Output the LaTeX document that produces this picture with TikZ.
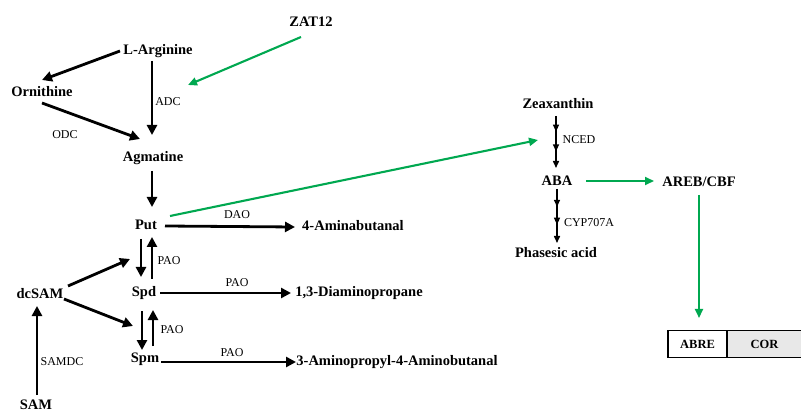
\documentclass[tikz,border=0pt]{standalone}
\usepackage{fontspec}
\setmainfont{Liberation Serif}
\usetikzlibrary{arrows.meta,calc,decorations.markings}
\definecolor{zgreen}{RGB}{0,168,80}
\definecolor{corgray}{RGB}{232,232,232}
\tikzset{
  lab/.style={font=\bfseries\fontsize{14.5}{16}\selectfont, inner sep=1pt},
  enz/.style={font=\fontsize{12}{14}\selectfont, inner sep=1pt},
  blk/.style={line width=2.8pt, -{Triangle[length=10pt,width=10pt]}},
  grn/.style={draw=zgreen, line width=2.1pt, -{Triangle[length=9pt,width=8pt]}, color=zgreen},
  thinarr/.style={line width=1.5pt, -{Triangle[length=7pt,width=6pt]}},
  boxnode/.style={draw, line width=1.1pt, minimum height=27pt, inner sep=0pt,
                  font=\bfseries\fontsize{12.5}{14}\selectfont}
}
\begin{document}
\begin{tikzpicture}[x=1pt,y=-1pt]
\useasboundingbox (0,0) rectangle (801,414);
% nodes
\node[lab] (zat) at (311,22) {ZAT12};
\node[lab] (arg) at (158,51) {L-Arginine};
\node[lab] (orn) at (42,92) {Ornithine};
\node[lab] (agm) at (153,158) {Agmatine};
\node[lab] (put) at (146,225) {Put};
\node[lab] (amb) at (353,226) {4-Aminabutanal};
\node[lab] (spd) at (144,293) {Spd};
\node[lab] (dap) at (359,293) {1,3-Diaminopropane};
\node[lab] (dcsam) at (40,294) {dcSAM};
\node[lab] (spm) at (145,359) {Spm};
\node[lab] (apab) at (397,362) {3-Aminopropyl-4-Aminobutanal};
\node[lab] (sam) at (36,405) {SAM};
\node[lab] (zea) at (558,104) {Zeaxanthin};
\node[lab] (aba) at (557,181) {ABA};
\node[lab] (areb) at (699,182) {AREB/CBF};
\node[lab] (pha) at (556,253) {Phasesic acid};
\node[boxnode, minimum width=59pt] (abre) at (697.5,344) {ABRE};
\node[boxnode, minimum width=74pt, fill=corgray] (cor) at (764.5,344) {COR};
% enzyme labels
\node[enz] (adc) at (168,102) {ADC};
\node[enz] (odc) at (65,135) {ODC};
\node[enz] (dao) at (237,215) {DAO};
\node[enz] (pao1) at (169,261) {PAO};
\node[enz] (pao2) at (237,283) {PAO};
\node[enz] (pao3) at (172,330) {PAO};
\node[enz] (pao4) at (232,353) {PAO};
\node[enz] (samdc) at (62,362) {SAMDC};
\node[enz] (nced) at (579,140) {NCED};
\node[enz] (cyp) at (589,223) {CYP707A};
% black arrows
\draw[blk] ($(arg)+(-38,0)$) -- ($(orn)+(0,-12)$);
\draw[blk] ($(orn)+(0,11)$) -- ($(agm)+(-13,-19)$);
\draw[blk] ($(arg)+(-6,10)$) -- ($(agm)+(-1,-23)$);
\draw[blk] ($(agm)+(-1,13)$) -- ($(put)+(6,-18)$);
\draw[blk] ($(put)+(19,1)$) -- ($(amb)+(-58,1)$);
\draw[blk] ($(put)+(-5,14)$) -- ($(spd)+(-3,-16)$);
\draw[blk] ($(spd)+(8,-14)$) -- ($(put)+(6,12)$);
\draw[blk] ($(spd)+(16,0)$) -- ($(dap)+(-68,0)$);
\draw[blk] ($(spd)+(-2,18)$) -- ($(spm)+(-3,-9)$);
\draw[blk] ($(spm)+(8,-13)$) -- ($(spd)+(9,17)$);
\draw[blk] ($(spm)+(16,3)$) -- ($(apab)+(-101,0)$);
\draw[blk] ($(dcsam)+(28,-8)$) -- ($(put)+(-16,34)$);
\draw[blk] ($(dcsam)+(24,5)$) -- ($(spm)+(-12,-33)$);
\draw[blk] ($(sam)+(1,-10)$) -- ($(dcsam)+(-3,12)$);
% ABA pathway
\draw[thinarr, postaction={decorate}, decoration={markings,
   mark=at position 0.3 with {\arrow{Triangle[length=7pt,width=6pt]}},
   mark=at position 0.68 with {\arrow{Triangle[length=7pt,width=6pt]}}}]
   ($(zea)+(-2,12)$) -- ($(aba)+(-1,-13)$);
\draw[thinarr, postaction={decorate}, decoration={markings,
   mark=at position 0.33 with {\arrow{Triangle[length=7pt,width=6pt]}},
   mark=at position 0.66 with {\arrow{Triangle[length=7pt,width=6pt]}}}]
   ($(aba)+(0,8)$) -- ($(pha)+(1,-10)$);
% green arrows
\draw[grn] ($(zat)+(-10,15)$) -- ($(arg)+(30,34)$);
\draw[grn] ($(put)+(24,-9)$) -- ($(zea)+(-20,36)$);
\draw[grn] ($(aba)+(29,0)$) -- ($(areb)+(-45,-1)$);
\draw[grn] ($(areb)+(0,13)$) -- ($(abre)+(1.5,-26)$);
\end{tikzpicture}
\end{document}
